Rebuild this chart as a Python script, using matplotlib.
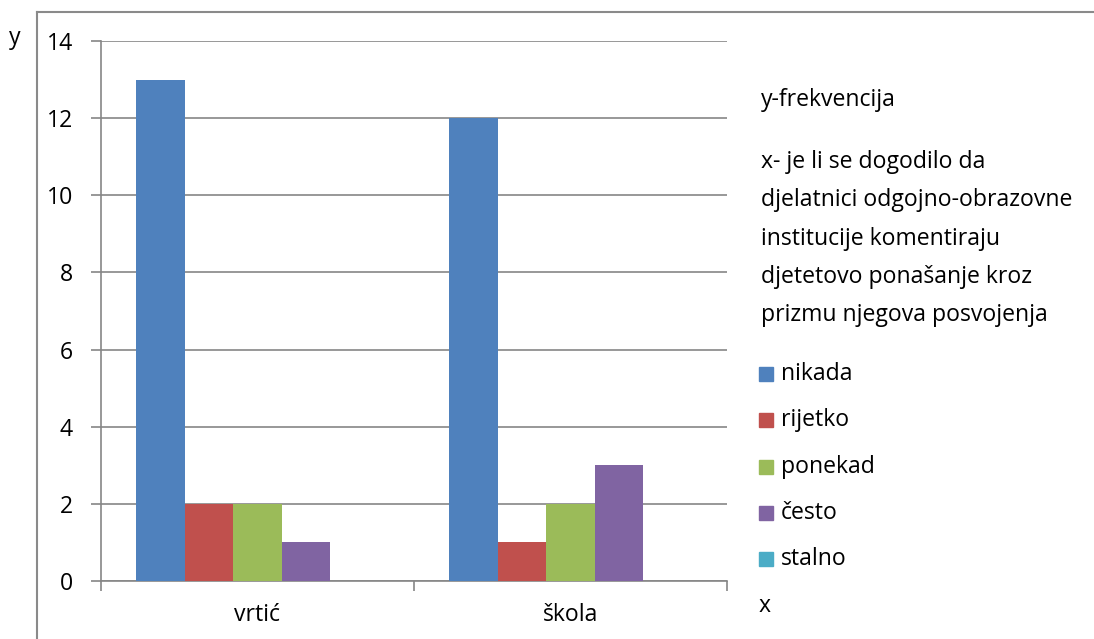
import matplotlib
matplotlib.use("Agg")
import matplotlib.pyplot as plt
from matplotlib.patches import Rectangle
from matplotlib.lines import Line2D
import numpy as np

plt.rcParams['font.family'] = ['Open Sans', 'DejaVu Sans']

categories = ["vrtić", "škola"]
series_names = ["nikada", "rijetko", "ponekad", "često", "stalno"]
nikada = [13, 12]
rijetko = [2, 1]
ponekad = [2, 2]
cesto = [1, 3]
stalno = [0, 0]
series_values = [nikada, rijetko, ponekad, cesto, stalno]
colors = ["#4F81BD", "#C0504D", "#9BBB59", "#8064A2", "#4BACC6"]
y_ticks = [0, 2, 4, 6, 8, 10, 12, 14]
info_lines = ["x- je li se dogodilo da", "djelatnici odgojno-obrazovne",
              "institucije komentiraju", "djetetovo ponašanje kroz",
              "prizmu njegova posvojenja"]

W, H = 1094, 639
fig = plt.figure(figsize=(W / 100, H / 100), dpi=100)

def fx(px):
    return px / W

def fy(py):
    return 1 - py / H

ax = fig.add_axes([fx(101), fy(581), fx(727) - fx(101), fy(41) - fy(581)])

grid_c = "#868686"
fs = 16.6
x = np.arange(len(categories))
w = 0.155
n = len(series_names)
for i, (name, vals, c) in enumerate(zip(series_names, series_values, colors)):
    ax.bar(x + (i - (n - 1) / 2) * w, vals, width=w, color=c, label=name, zorder=3)

ax.set_xlim(-0.5, len(categories) - 0.5)
ax.set_ylim(0, 14)
ax.set_yticks(y_ticks)
ax.set_yticklabels([str(t) for t in y_ticks], fontsize=fs)
ax.yaxis.grid(True, color=grid_c, linewidth=1.2, zorder=0)
ax.set_axisbelow(True)

# x ticks at category boundaries, labels at centers
ax.set_xticks(np.arange(len(categories) + 1) - 0.5)
ax.set_xticklabels([])
ax.set_xticks(x, minor=True)
ax.set_xticklabels(categories, minor=True, fontsize=fs)
ax.tick_params(axis='x', which='minor', length=0, pad=16)
ax.tick_params(axis='x', which='major', length=7, width=1.2, color=grid_c, direction='out')
ax.tick_params(axis='y', length=7, width=1.2, color=grid_c, direction='out', pad=13)

for s in ["top", "right"]:
    ax.spines[s].set_visible(False)
for s in ["left", "bottom"]:
    ax.spines[s].set_color(grid_c)
    ax.spines[s].set_linewidth(1.2)

# outer frame (partially cropped)
fig.add_artist(Line2D([fx(37), fx(37)], [fy(12), 0], color="#8a8a8a", linewidth=1.5))
fig.add_artist(Line2D([fx(37), 1], [fy(12), fy(12)], color="#8a8a8a", linewidth=1.5))

fig.text(fx(15), fy(38), "y", fontsize=fs, ha='center', va='center')

fig.text(fx(761), fy(100), "y-frekvencija", fontsize=fs, ha='left', va='center')
for k, line in enumerate(info_lines):
    fig.text(fx(761), fy(162 + 38.3 * k), line, fontsize=fs, ha='left', va='center')

for k, (name, c) in enumerate(zip(series_names, colors)):
    yc = 374 + 46.3 * k
    fig.add_artist(Rectangle((fx(759), fy(yc + 7)), fx(14), 14 / H, color=c))
    fig.text(fx(781), fy(yc), name, fontsize=fs, ha='left', va='center')

fig.text(fx(765), fy(606), "x", fontsize=fs, ha='center', va='center')

fig.savefig("out.png", dpi=100)
